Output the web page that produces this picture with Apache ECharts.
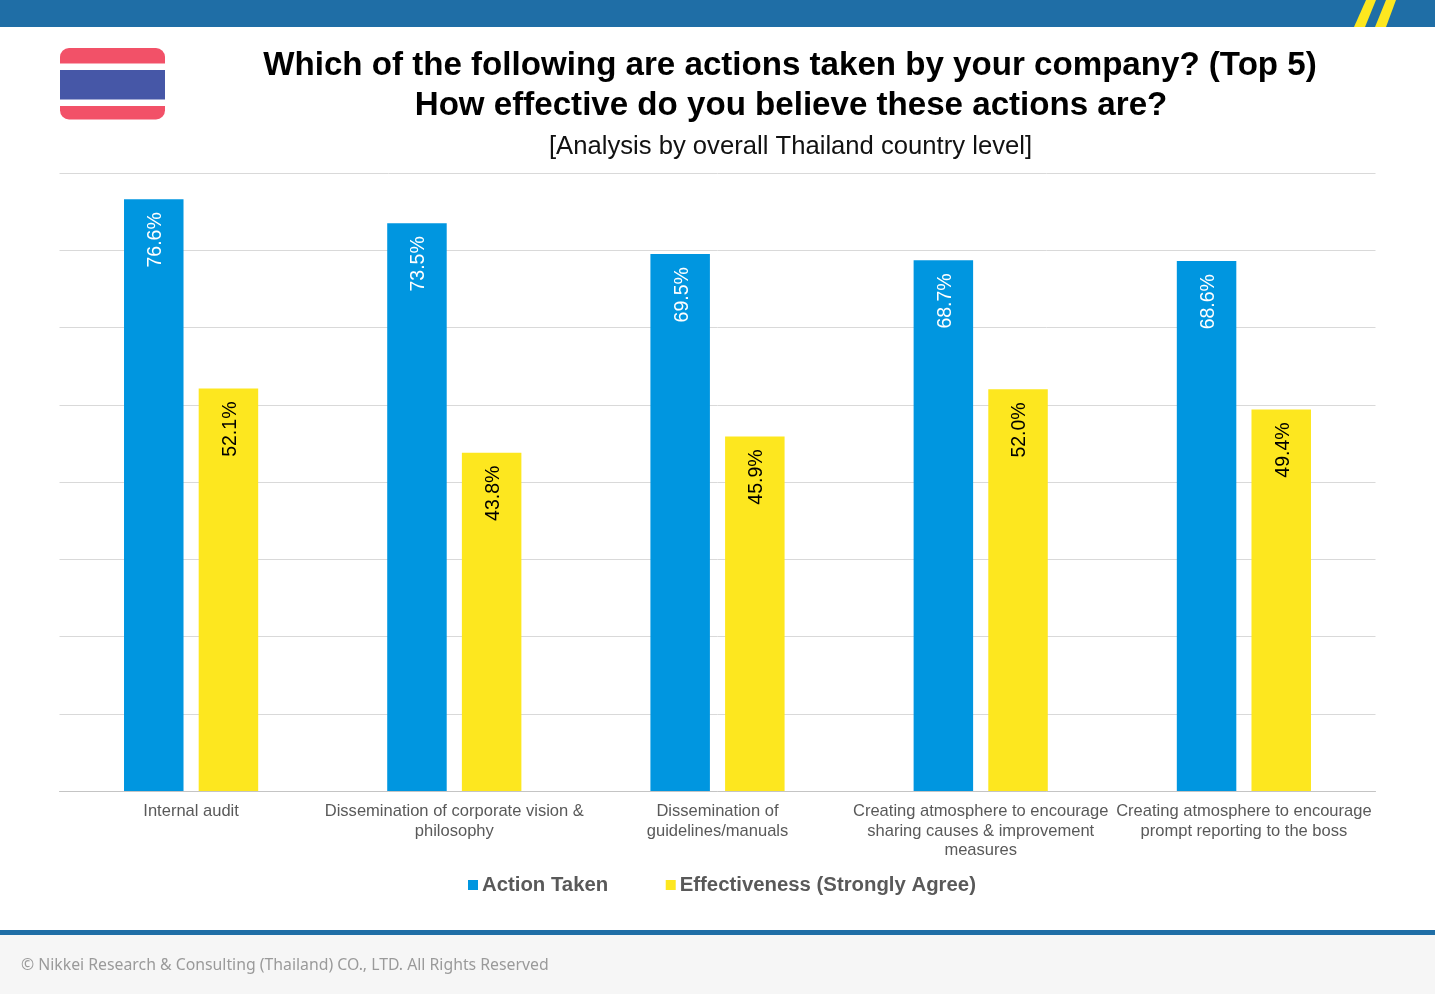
<!DOCTYPE html>
<html>
<head>
<meta charset="utf-8">
<style>
html,body{margin:0;padding:0;background:#fff;}
#chart{width:1435px;height:994px;}
</style>
<script src="https://cdn.jsdelivr.net/npm/echarts@6/dist/echarts.min.js"></script>
</head>
<body>
<div id="chart"></div>
<script>
const categories = [
  'Internal audit',
  'Dissemination of corporate vision &\nphilosophy',
  'Dissemination of\nguidelines/manuals',
  'Creating atmosphere to encourage\nsharing causes & improvement\nmeasures',
  'Creating atmosphere to encourage\nprompt reporting to the boss'
];
const actionTaken = [76.6, 73.5, 69.5, 68.7, 68.6];
const effectiveness = [52.1, 43.8, 45.9, 52.0, 49.4];
const seriesNames = ['Action Taken', 'Effectiveness (Strongly Agree)'];
const titleLines = [
  'Which of the following are actions taken by your company? (Top 5)',
  'How effective do you believe these actions are?'
];
const subtitle = '[Analysis by overall Thailand country level]';
const copyright = '© Nikkei Research & Consulting (Thailand) CO., LTD. All Rights Reserved';

const FONT = '"Liberation Sans", Arial, sans-serif';
const BLUE = '#0096e0', YELLOW = '#fde71f', BRAND = '#1f6ea6';

function barSeries(name, data, color, labelColor) {
  return {
    name, type: 'bar', data,
    barWidth: 59.5, barGap: '25.5%',
    itemStyle: { color },
    label: {
      show: true, position: 'insideTop', rotate: 90, distance: 13, offset: [0, 2],
      align: 'right', verticalAlign: 'middle',
      color: labelColor, fontFamily: FONT, fontSize: 19.5,
      formatter: p => p.value.toFixed(1) + '%'
    }
  };
}

const chart = echarts.init(document.getElementById('chart'), null, { renderer: 'canvas' });
chart.setOption({
  animation: false,
  backgroundColor: '#fff',
  grid: { left: 59.5, top: 173, width: 1316, height: 618, containLabel: false },
  legend: {
    left: 463, top: 870, itemWidth: 10, itemHeight: 10, itemGap: 57.5,
    icon: 'rect',
    textStyle: { fontFamily: FONT, fontSize: 20.35, fontWeight: 'bold', color: '#595959', padding: [0, 0, 0, -1] },
    data: seriesNames
  },
  xAxis: {
    type: 'category', data: categories,
    axisTick: { show: false },
    axisLine: { lineStyle: { color: '#c4c4c4', width: 1 } },
    axisLabel: {
      interval: 0, margin: 11, lineHeight: 19.5,
      fontFamily: FONT, fontSize: 16.55, color: '#595959'
    }
  },
  yAxis: {
    type: 'value', min: 0, max: 80, interval: 10,
    axisLine: { show: false }, axisTick: { show: false }, axisLabel: { show: false },
    splitLine: { lineStyle: { color: '#d9d9d9', width: 1 } }
  },
  series: [
    barSeries(seriesNames[0], actionTaken, BLUE, '#ffffff'),
    barSeries(seriesNames[1], effectiveness, YELLOW, '#000000')
  ],
  graphic: [
    // header band with the two slanted stripes
    { type: 'rect', shape: { x: 0, y: 0, width: 1435, height: 27 }, style: { fill: BRAND } },
    { type: 'polygon', shape: { points: [[1354, 27], [1365, 27], [1376, 0], [1366, 0]] }, style: { fill: YELLOW } },
    { type: 'polygon', shape: { points: [[1375, 27], [1386, 27], [1396, 0], [1386, 0]] }, style: { fill: YELLOW } },
    // flag
    { type: 'rect', shape: { x: 60, y: 48, width: 105, height: 71.5, r: 9 }, style: { fill: '#f25168' } },
    { type: 'rect', shape: { x: 60, y: 63.5, width: 105, height: 42.5 }, style: { fill: '#ffffff' } },
    { type: 'rect', shape: { x: 60, y: 70, width: 105, height: 29.5 }, style: { fill: '#4657a7' } },
    // headings
    { type: 'text', style: { x: 790, y: 66, text: titleLines[0], align: 'center', verticalAlign: 'middle', font: 'bold 33.12px ' + FONT, fill: '#000' } },
    { type: 'text', style: { x: 791, y: 106, text: titleLines[1], align: 'center', verticalAlign: 'middle', font: 'bold 33.12px ' + FONT, fill: '#000' } },
    { type: 'text', style: { x: 790.5, y: 147, text: subtitle, align: 'center', verticalAlign: 'middle', font: '25.65px ' + FONT, fill: '#111' } },
    // footer
    { type: 'rect', shape: { x: 0, y: 935, width: 1435, height: 59 }, style: { fill: '#f6f6f6' } },
    { type: 'rect', shape: { x: 0, y: 930, width: 1435, height: 5 }, style: { fill: BRAND } },
    { type: 'text', style: { x: 21, y: 965, text: copyright, align: 'left', verticalAlign: 'middle', font: '15.8px "Noto Sans", sans-serif', fill: '#9a9a9a' } }
  ]
});
</script>
</body>
</html>
